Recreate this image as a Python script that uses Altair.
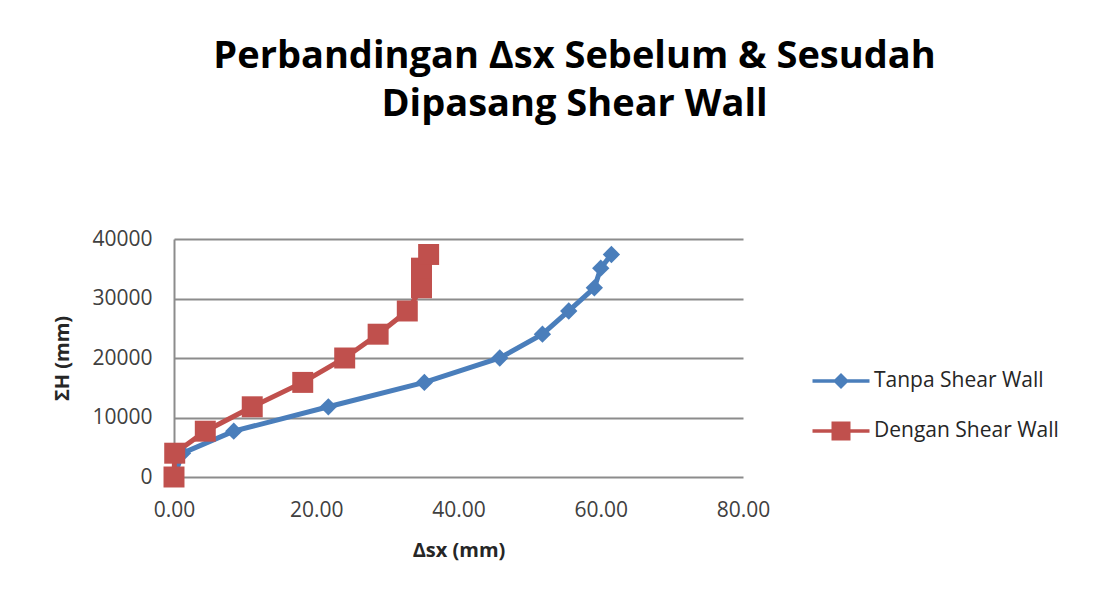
import altair as alt
import pandas as pd

series_names = ["Tanpa Shear Wall", "Dengan Shear Wall"]
heights = [0, 4000, 7700, 11800, 15900, 20000, 24000, 27900, 31800, 35100, 37400]
tanpa_dx = [0, 1.2, 8.4, 21.7, 35.2, 45.8, 51.8, 55.5, 59.1, 60.0, 61.5]
dengan_dx = [0, 0.1, 4.4, 11.0, 18.1, 24.0, 28.7, 32.8, 34.8, 34.8, 35.8]
colors = ["#4A7EBB", "#C0504D"]

rows = []
for name, xs in zip(series_names, [tanpa_dx, dengan_dx]):
    for i, (xv, yv) in enumerate(zip(xs, heights)):
        rows.append({"series": name, "dx": xv, "H": yv, "idx": i})
df = pd.DataFrame(rows)

FONT = "Open Sans"
diamond_path = "M-1.14,-0.07L1.14,-0.07L1.14,0.07L-1.14,0.07Z M0,-0.32L0.32,0L0,0.32L-0.32,0Z"
square_path = "M-1.14,-0.07L1.14,-0.07L1.14,0.07L-1.14,0.07Z M-0.38,-0.38L0.38,-0.38L0.38,0.38L-0.38,0.38Z"

x_enc = alt.X("dx:Q", title="Δsx (mm)",
              scale=alt.Scale(domain=[0, 80], nice=False),
              axis=alt.Axis(values=[0, 20, 40, 60, 80], format=".2f", grid=False,
                            ticks=False, domain=False, labelPadding=22,
                            labelFlush=False, titlePadding=20))
y_enc = alt.Y("H:Q", title="ΣH (mm)",
              scale=alt.Scale(domain=[0, 40000], nice=False),
              axis=alt.Axis(values=[0, 10000, 20000, 30000, 40000], format="d",
                            ticks=False, domain=True, labelPadding=22,
                            labelFlush=False, titlePadding=19))

base = alt.Chart(df).encode(x=x_enc, y=y_enc, order=alt.Order("idx:Q"))

layers = []
shapes = ["diamond", "square"]
sizes = [300, 440]
for name, col in zip(series_names, colors):
    sub = base.transform_filter(alt.datum.series == name)
    layers.append(sub.mark_line(strokeWidth=5, color=col))
for name, col, shp, sz in zip(series_names, colors, shapes, sizes):
    sub = base.transform_filter(alt.datum.series == name)
    layers.append(sub.mark_point(filled=True, opacity=1, color=col, shape=shp, size=sz))

legend_common = dict(title=None, orient="none", legendX=642,
                     symbolSize=2500, symbolStrokeWidth=0, labelOffset=8,
                     labelLimit=400,
                     labelFont=FONT, labelFontSize=21, labelColor="#262626")

empty = base.transform_filter("false")
leg_a = empty.mark_point(filled=True, opacity=1).encode(
    fill=alt.Fill("series:N",
                  scale=alt.Scale(domain=[series_names[0]], range=[colors[0]]),
                  legend=alt.Legend(symbolType=diamond_path, legendY=117, **legend_common)))
leg_b = empty.mark_point(filled=True, opacity=1, color=colors[1]).encode(
    shape=alt.Shape("series:N",
                    scale=alt.Scale(domain=[series_names[1]], range=[square_path]),
                    legend=alt.Legend(legendY=167, symbolFillColor=colors[1], **legend_common)))
layers += [leg_a, leg_b]

chart = alt.layer(*layers).properties(
    width=569,
    height=238,
    autosize=alt.AutoSizeParams(type="none"),
    padding={"left": 166, "top": 231, "right": 343, "bottom": 111},
    title=alt.TitleParams(
        text=["Perbandingan Δsx Sebelum & Sesudah", "Dipasang Shear Wall"],
        font=FONT, fontSize=38, fontWeight="bold", color="#000000",
        anchor="middle", frame="group", dx=116, lineHeight=48, offset=104,
    ),
).configure_view(stroke=None).configure_axis(
    labelFont=FONT, labelFontSize=21, labelColor="#404040",
    titleFont=FONT, titleFontSize=20, titleFontWeight="bold", titleColor="#262626",
    gridColor="#8c8c8c", gridWidth=2, domainColor="#8c8c8c", domainWidth=2,
)

chart.save("out.html", embed_options={"renderer": "svg", "actions": False})
